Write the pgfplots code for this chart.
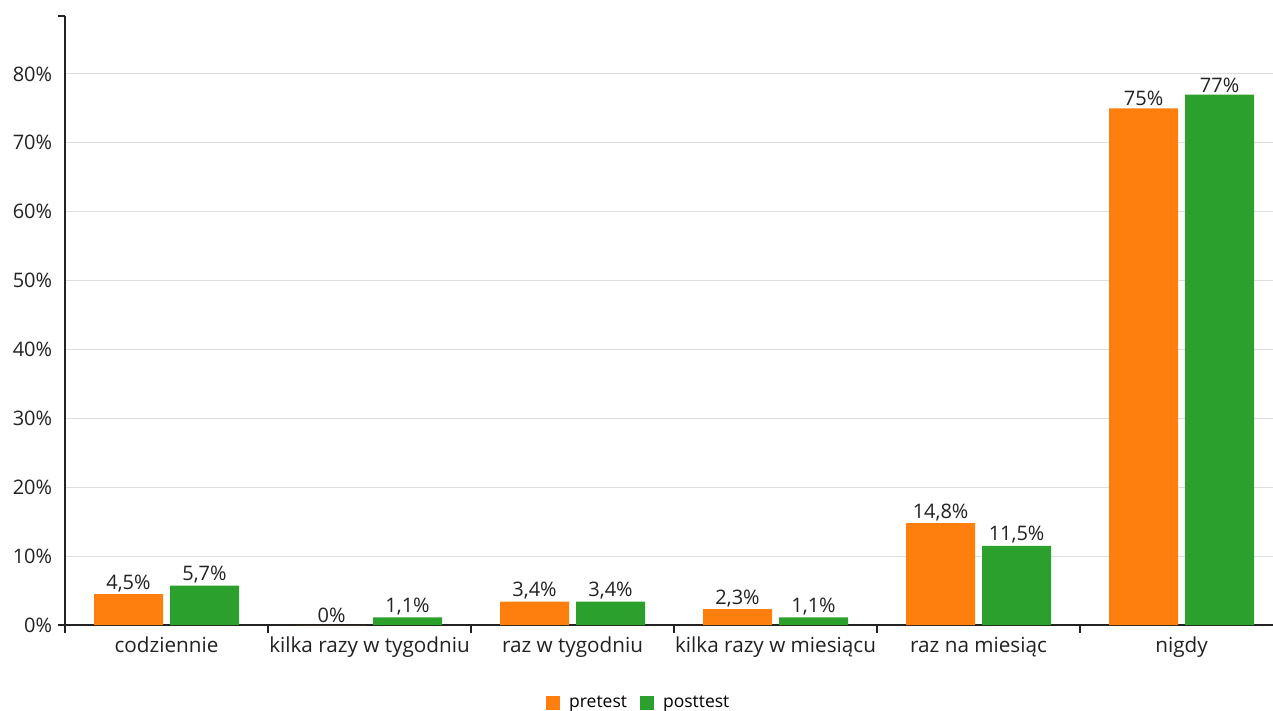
\documentclass[border=0pt]{standalone}
\usepackage{fontspec}
\setmainfont{Open Sans}
\usepackage{pgfplots}
\pgfplotsset{compat=1.18}
\definecolor{pre}{HTML}{FF7F0E}
\definecolor{post}{HTML}{2CA02C}
\definecolor{gridc}{HTML}{DEDEDE}
\definecolor{axc}{HTML}{222222}
\begin{document}
\fontsize{20bp}{24bp}\selectfont
\begin{tikzpicture}
\begin{axis}[
  scale only axis, width=1208bp, height=609bp,
  ybar=7bp, bar width=69bp,
  xmin=-0.5, xmax=5.45, ymin=0, ymax=88.4,
  axis x line*=bottom, axis y line*=left,
  axis line style={axc, line width=1.3bp},
  tick style={axc, line width=1.3bp},
  xtick={0,...,5},
  xticklabels={codziennie, kilka razy w tygodniu, raz w tygodniu, kilka razy w miesiącu, raz na miesiąc, nigdy},
  minor xtick={-0.5,0.5,1.5,2.5,3.5,4.5},
  major tick length=0pt, minor tick length=8bp,
  tick align=outside,
  ytick={0,10,...,80},
  yticklabels={0\%,10\%,20\%,30\%,40\%,50\%,60\%,70\%,80\%},
  ymajorgrids, grid style={gridc, line width=1bp},
  extra y ticks={0,88.4}, extra y tick labels={},
  extra y tick style={major tick length=7bp, grid=none},
  yticklabel style={font=\fontsize{20bp}{24bp}\selectfont, text=axc, xshift=-6bp},
  xticklabel style={font=\fontsize{20.7bp}{24bp}\selectfont, text=axc, yshift=-5bp},
  /pgf/number format/assume math mode=true,
  nodes near coords={\pgfmathprintnumber[fixed,precision=1,use comma]{\pgfplotspointmeta}\%},
  every node near coord/.append style={font=\fontsize{20bp}{24bp}\selectfont, text=axc, inner sep=2bp},
  legend columns=2,
  legend style={at={(0.475,-0.128)}, anchor=center, draw=none, fill=none,
    font=\fontsize{17.5bp}{20bp}\selectfont,
    /tikz/every even column/.append style={column sep=11bp}},
]
\addplot[fill=pre, draw=none, legend image code/.code={\fill[pre] (0bp,-7bp) rectangle (14bp,7bp); \path (21bp,0bp);}]
  coordinates {(0,4.5) (1,0) (2,3.4) (3,2.3) (4,14.8) (5,75)};
\addplot[fill=post, draw=none, legend image code/.code={\fill[post] (0bp,-7bp) rectangle (14bp,7bp); \path (21bp,0bp);}]
  coordinates {(0,5.7) (1,1.1) (2,3.4) (3,1.1) (4,11.5) (5,77)};
\legend{pretest, posttest}
\end{axis}
\pgfresetboundingbox
\path[use as bounding box] (-65bp,-86bp) rectangle (1208bp,625bp);
\end{tikzpicture}
\end{document}
